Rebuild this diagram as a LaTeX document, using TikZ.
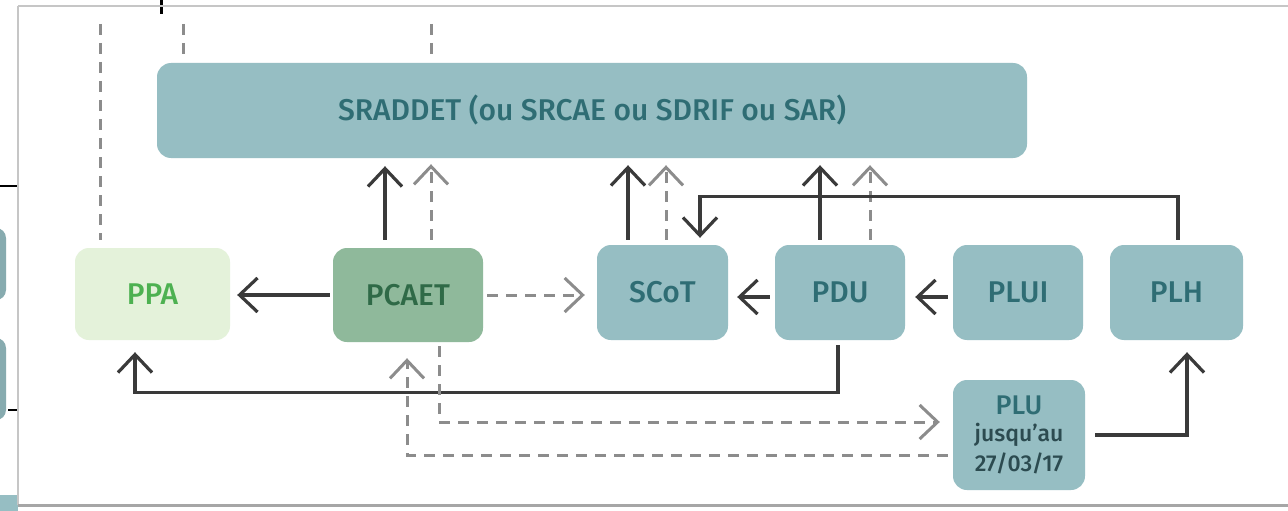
\documentclass[tikz,border=0pt]{standalone}
\usepackage{fontspec}
\setmainfont{Fira Sans Medium}
\usetikzlibrary{arrows.meta}
\definecolor{boxteal}{HTML}{96BEC3}
\definecolor{txtteal}{HTML}{2F6D74}
\definecolor{ppafill}{HTML}{E4F2DA}
\definecolor{ppatxt}{HTML}{4DB151}
\definecolor{pcfill}{HTML}{8FB99B}
\definecolor{pctxt}{HTML}{2F6A47}
\definecolor{darkline}{HTML}{3A3A3A}
\definecolor{dashgray}{HTML}{8C8C8C}
\definecolor{datetxt}{HTML}{2C4B50}
\newcommand{\smalldate}[1]{{\fontsize{23}{26}\selectfont\color{datetxt}#1}}
\tikzset{
  box/.style={rounded corners=14pt, minimum width=#1, inner sep=0pt, anchor=center,
    font=\fontsize{30}{32}\selectfont},
  tealbox/.style={box=#1, fill=boxteal, text=txtteal},
  solidarrow/.style={draw=darkline, line width=3.2pt,
    -{Straight Barb[length=18pt,width=34pt,line width=3.2pt]}},
  dasharrow/.style={draw=dashgray, line width=3pt, dash pattern=on 11pt off 8pt,
    -{Straight Barb[length=18pt,width=34pt,line width=3pt]}},
  dashline/.style={draw=dashgray, line width=3pt, dash pattern=on 11pt off 8pt},
  framebar/.style={draw=gray!45, line width=1.5pt}
}
\begin{document}
\begin{tikzpicture}[x=1pt,y=-1pt]
\useasboundingbox (0,0) rectangle (1288,511);
\clip (0,0) rectangle (1288,511);
\fill[white] (0,0) rectangle (1288,511);
% screenshot frame
\fill[boxteal!90!black, rounded corners=10pt] (-30,228) rectangle (6,300);
\fill[boxteal!90!black, rounded corners=10pt] (-30,338) rectangle (6,420);
\fill[boxteal] (0,495) rectangle (18,511);
\draw[black, line width=1.5pt] (0,186) -- (18,186);
\draw[black, line width=1.5pt] (8,410) -- (18,410);
\draw[black, line width=3pt] (161,0) -- (161,14);
\draw[framebar] (18,6) -- (1288,6);
\draw[framebar] (18,6) -- (18,505);
\draw[draw=gray!70, line width=3pt] (18,505) -- (1288,505);

% nodes
\node[tealbox=870pt, minimum height=95pt] (srad) at (592,110.5) {SRADDET (ou SRCAE ou SDRIF ou SAR)};
\node[box=155pt, minimum height=92pt, fill=ppafill, text=ppatxt] (ppa) at (152.5,294) {PPA};
\node[box=150pt, minimum height=94pt, fill=pcfill, text=pctxt] (pcaet) at (408,295) {PCAET};
\node[tealbox=131pt, minimum height=95pt] (scot) at (662.5,292.5) {SCoT};
\node[tealbox=130pt, minimum height=95pt] (pdu) at (840,292.5) {PDU};
\node[tealbox=130pt, minimum height=95pt] (plui) at (1018,292.5) {PLUI};
\node[tealbox=133pt, minimum height=95pt] (plh) at (1176.5,292.5) {PLH};
\node[tealbox=132pt, minimum height=110pt, align=center, font=\fontsize{27}{30}\selectfont] (plu) at (1019,435)
  {PLU\\[-3pt]\smalldate{jusqu{\char"27}au}\\[0pt]\smalldate{27/03/17}};

% top free dashed lines
\coordinate (t1) at (100,24);
\coordinate (t2) at (183,24);
\coordinate (t2b) at (183,60);
\coordinate (t3) at (431,24);
\coordinate (t3b) at (431,60);
\draw[dashline] (t1) -- ([xshift=-52.5pt,yshift=8pt]ppa.north);
\draw[dashline] (t2) -- (t2b);
\draw[dashline] (t3) -- (t3b);

% horizontal arrows
\draw[solidarrow, shorten >=7pt, shorten <=3pt] (pcaet.west) -- (pcaet.west -| ppa.east);
\draw[dasharrow, shorten >=12pt, shorten <=4pt] (pcaet.east) -- (pcaet.east -| scot.west);
\draw[solidarrow, shorten >=9pt, shorten <=5pt] ([yshift=-4.5pt]pdu.west) -- ([yshift=-4.5pt]scot.east);
\draw[solidarrow, shorten >=10pt, shorten <=5pt] ([yshift=-4.5pt]plui.west) -- ([yshift=-4.5pt]pdu.east);

% upward arrows to SRADDET
\draw[solidarrow, shorten >=8pt, shorten <=8pt] ([xshift=-23pt]pcaet.north) -- ([xshift=-207pt]srad.south);
\draw[dasharrow, shorten >=6pt, shorten <=8pt] ([xshift=23pt]pcaet.north) -- ([xshift=-161pt]srad.south);
\draw[solidarrow, shorten >=7pt, shorten <=5pt] ([xshift=-34.5pt]scot.north) -- ([xshift=36pt]srad.south);
\draw[dasharrow, shorten >=7pt, shorten <=5pt] ([xshift=3.5pt]scot.north) -- ([xshift=74pt]srad.south);
\draw[solidarrow, shorten >=7pt, shorten <=5pt] ([xshift=-20pt]pdu.north) -- ([xshift=228pt]srad.south);
\draw[dasharrow, shorten >=7pt, shorten <=5pt] ([xshift=30pt]pdu.north) -- ([xshift=278pt]srad.south);

% PLH -> SCoT
\draw[solidarrow, shorten <=5pt, shorten >=7pt] ([xshift=1.5pt]plh.north) -- ++(0,-48) -| ([xshift=37.5pt]scot.north);

% PDU -> PPA
\draw[solidarrow, shorten <=5pt, shorten >=12pt] ([xshift=-2pt]pdu.south) -- ++(0,52) -| ([xshift=-17.5pt]ppa.south);

% PCAET -> PLU (dashed)
\draw[dasharrow, shorten <=4pt, shorten >=13pt] ([xshift=31pt]pcaet.south) |- ([yshift=13pt]plu.west);
% PLU -> PCAET (dashed)
\draw[dasharrow, shorten <=5pt, shorten >=16pt] ([yshift=-20pt]plu.west) -| ([xshift=-1pt]pcaet.south);

% PLU -> PLH
\draw[solidarrow, shorten <=10pt, shorten >=12pt] (plu.east) -| ([xshift=10.5pt]plh.south);
\end{tikzpicture}
\end{document}
